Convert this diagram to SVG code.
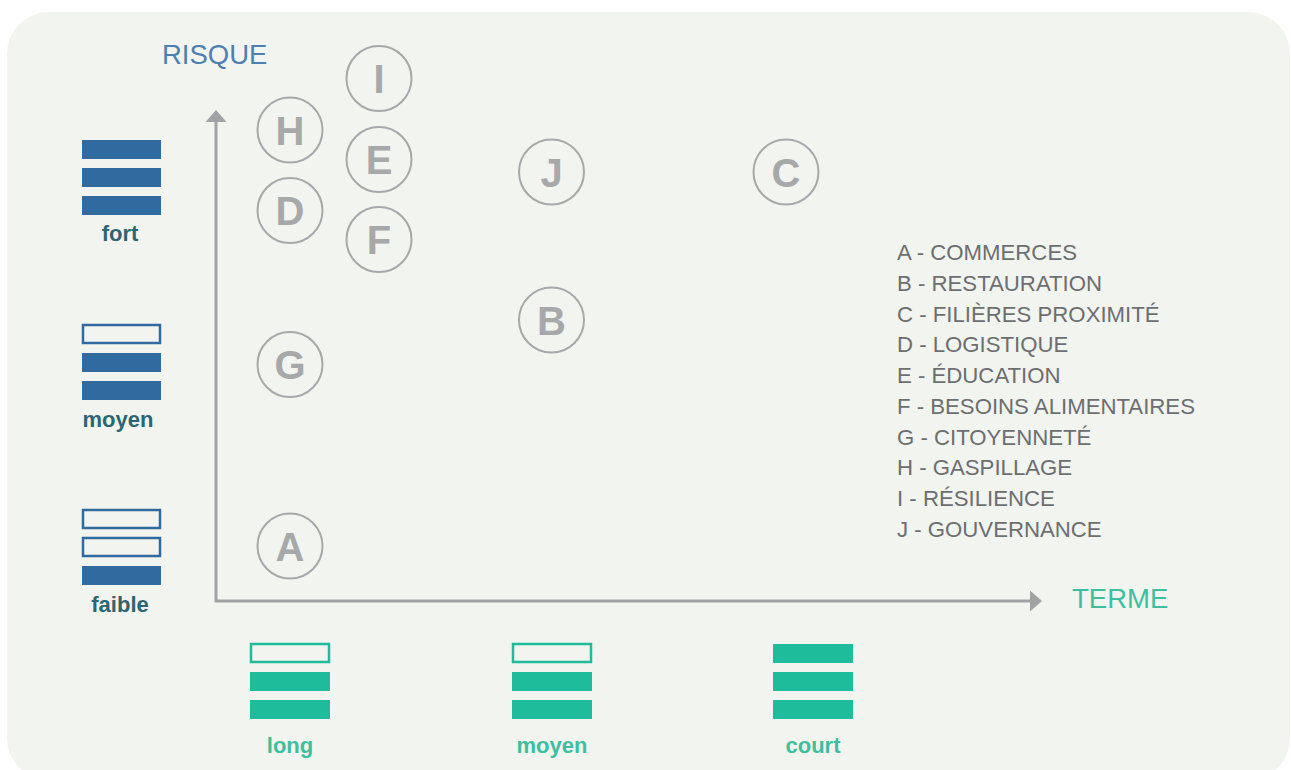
<svg xmlns="http://www.w3.org/2000/svg" width="1291" height="770" viewBox="0 0 1291 770">
<style>
.bg{fill:#f2f4f0}
.axis{stroke:#a0a2a3;stroke-width:3;fill:none}
.node circle{fill:none;stroke:#a6a8a9;stroke-width:2}
.node text{font-family:"Liberation Sans",Arial,sans-serif;font-weight:bold;font-size:40px;fill:#a6a8aa;text-anchor:middle}
.rb{fill:#316a9e}
.ro{fill:none;stroke:#316a9e;stroke-width:2.5}
.tb{fill:#1fbc9c}
.to{fill:none;stroke:#1fbc9c;stroke-width:2.5}
.rl{font-family:"Liberation Sans",Arial,sans-serif;font-weight:bold;font-size:22px;fill:#2d6571;text-anchor:middle}
.tl{font-family:"Liberation Sans",Arial,sans-serif;font-weight:bold;font-size:22px;fill:#3dbf9f;text-anchor:middle}
.title{font-family:"Liberation Sans",Arial,sans-serif;font-size:27.5px}
.leg{font-family:"Liberation Sans",Arial,sans-serif;font-size:22.2px;fill:#6d6e70}
</style>
<defs>
<marker id="arr" markerUnits="userSpaceOnUse" markerWidth="12" markerHeight="21" refX="0" refY="10.5" orient="auto" viewBox="0 0 12 21">
<path d="M0,0 L12,10.5 L0,21 z" fill="#a0a2a3"/>
</marker>
</defs>
<rect width="1291" height="770" fill="#ffffff"/>
<rect class="bg" x="7" y="12" width="1283" height="768" rx="42" ry="42"/>

<g id="connectors">
<line class="axis" x1="216" y1="602" x2="216" y2="122" marker-end="url(#arr)"/>
<line class="axis" x1="215" y1="601" x2="1030" y2="601" marker-end="url(#arr)"/>
</g>

<text class="title" x="162" y="64" fill="#4f7fb0">RISQUE</text>
<text class="title" x="1072" y="608" fill="#3dbf9f">TERME</text>

<g id="risk-fort">
<rect class="rb" x="82" y="140" width="79" height="19"/>
<rect class="rb" x="82" y="168" width="79" height="19"/>
<rect class="rb" x="82" y="196" width="79" height="19"/>
<text class="rl" x="120" y="241">fort</text>
</g>
<g id="risk-moyen">
<rect class="ro" x="83" y="325" width="77" height="18"/>
<rect class="rb" x="82" y="353" width="79" height="19"/>
<rect class="rb" x="82" y="381" width="79" height="19"/>
<text class="rl" x="118" y="427">moyen</text>
</g>
<g id="risk-faible">
<rect class="ro" x="83" y="510" width="77" height="18"/>
<rect class="ro" x="83" y="538" width="77" height="18"/>
<rect class="rb" x="82" y="566" width="79" height="19"/>
<text class="rl" x="120" y="612">faible</text>
</g>

<g id="term-long">
<rect class="to" x="251" y="644" width="78" height="18"/>
<rect class="tb" x="250" y="672" width="80" height="19"/>
<rect class="tb" x="250" y="700" width="80" height="19"/>
<text class="tl" x="290" y="753">long</text>
</g>
<g id="term-moyen">
<rect class="to" x="513" y="644" width="78" height="18"/>
<rect class="tb" x="512" y="672" width="80" height="19"/>
<rect class="tb" x="512" y="700" width="80" height="19"/>
<text class="tl" x="552" y="753">moyen</text>
</g>
<g id="term-court">
<rect class="tb" x="773" y="644" width="80" height="19"/>
<rect class="tb" x="773" y="672" width="80" height="19"/>
<rect class="tb" x="773" y="700" width="80" height="19"/>
<text class="tl" x="813" y="753">court</text>
</g>

<g id="node-I" class="node"><circle cx="379" cy="78.5" r="32.5"/><text x="379" y="93">I</text></g>
<g id="node-H" class="node"><circle cx="290" cy="130" r="32.5"/><text x="290" y="144.5">H</text></g>
<g id="node-E" class="node"><circle cx="379" cy="159.5" r="32.5"/><text x="379" y="174">E</text></g>
<g id="node-D" class="node"><circle cx="290" cy="210.5" r="32.5"/><text x="290" y="225">D</text></g>
<g id="node-F" class="node"><circle cx="379" cy="239.5" r="32.5"/><text x="379" y="254">F</text></g>
<g id="node-J" class="node"><circle cx="551.5" cy="172" r="32.5"/><text x="551.5" y="186.5">J</text></g>
<g id="node-C" class="node"><circle cx="786" cy="172" r="32.5"/><text x="786" y="186.5">C</text></g>
<g id="node-B" class="node"><circle cx="551.5" cy="320" r="32.5"/><text x="551.5" y="334.5">B</text></g>
<g id="node-G" class="node"><circle cx="290" cy="364.5" r="32.5"/><text x="290" y="379">G</text></g>
<g id="node-A" class="node"><circle cx="290" cy="546" r="32.5"/><text x="290" y="560.5">A</text></g>

<g id="legend" class="leg">
<text x="897" y="260">A - COMMERCES</text>
<text x="897" y="291">B - RESTAURATION</text>
<text x="897" y="322">C - FILIÈRES PROXIMITÉ</text>
<text x="897" y="352">D - LOGISTIQUE</text>
<text x="897" y="383">E - ÉDUCATION</text>
<text x="897" y="414">F - BESOINS ALIMENTAIRES</text>
<text x="897" y="445">G - CITOYENNETÉ</text>
<text x="897" y="475">H - GASPILLAGE</text>
<text x="897" y="506">I - RÉSILIENCE</text>
<text x="897" y="537">J - GOUVERNANCE</text>
</g>
</svg>
